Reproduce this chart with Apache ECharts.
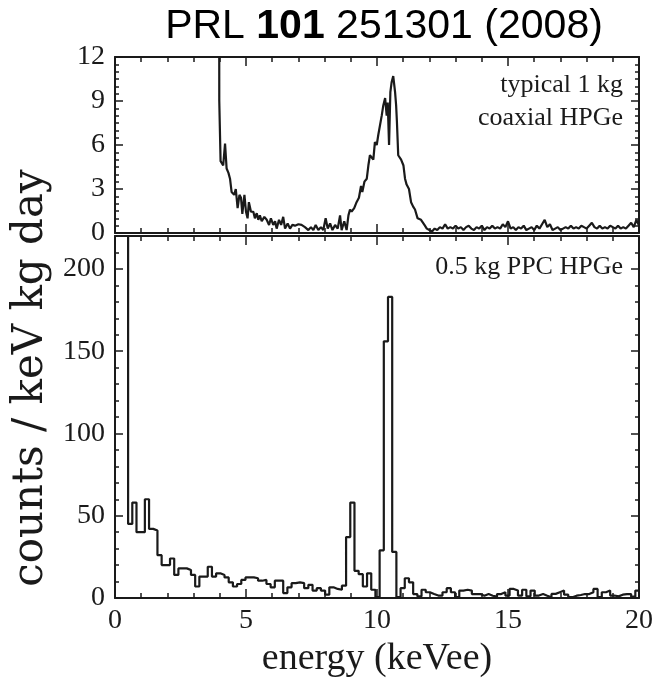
<!DOCTYPE html>
<html><head><meta charset="utf-8">
<script src="https://cdn.jsdelivr.net/npm/echarts@6/dist/echarts.min.js"></script>
<style>html,body{margin:0;padding:0;background:#fff}#c{width:664px;height:682px}</style>
</head><body><div id="c"></div>
<script>
// ---- data ----
const xTicks = [0, 5, 10, 15, 20];
const topTicks = [0, 3, 6, 9, 12];
const bottomTicks = [0, 50, 100, 150, 200];

// typical 1 kg coaxial HPGe (fine binned spectrum)
const topE = [3.97,3.98,4.03,4.13,4.20,4.26,4.33,4.39,4.45,4.55,4.61,4.68,4.75,4.81,4.86,4.94,5.00,5.06,5.11,5.19,5.28,5.34,5.41,5.47,5.53,5.60,5.70,5.79,5.88,5.95,6.04,6.11,6.17,6.26,6.34,6.42,6.49,6.59,6.68,6.77,6.87,7.00,7.12,7.25,7.38,7.48,7.57,7.66,7.76,7.86,7.95,8.04,8.12,8.21,8.30,8.40,8.50,8.59,8.65,8.75,8.84,8.91,8.97,9.03,9.13,9.22,9.31,9.39,9.44,9.52,9.61,9.67,9.73,9.80,9.86,9.92,9.99,10.05,10.11,10.18,10.24,10.31,10.37,10.41,10.46,10.51,10.56,10.62,10.69,10.73,10.76,10.81,10.92,11.01,11.07,11.13,11.22,11.30,11.38,11.45,11.55,11.68,11.81,
  11.9,12.0,12.1,12.2,12.3,12.4,12.5,12.6,12.7,12.8,12.9,13.0,13.1,13.2,13.3,13.4,13.5,13.6,13.7,13.8,13.9,14.0,14.1,14.2,14.3,14.4,14.5,14.6,14.7,14.8,14.9,15.0,15.1,15.2,15.3,15.4,15.5,15.6,15.7,15.8,15.9,16.0,16.1,16.2,16.3,16.4,16.5,16.6,16.7,16.8,16.9,17.0,17.1,17.2,17.3,17.4,17.5,17.6,17.7,17.8,17.9,18.0,18.1,18.2,18.3,18.4,18.5,18.6,18.7,18.8,18.9,19.0,19.1,19.2,19.3,19.4,19.5,19.6,19.7,19.8,19.9,20.0];
const topV = [30,9.0,4.9,4.6,6.1,4.4,4.1,3.7,2.8,2.6,3.0,1.7,2.6,2.4,1.3,2.6,1.45,1.0,2.1,1.45,1.45,1.0,1.35,0.9,1.2,0.8,1.1,0.9,0.55,1.0,0.55,0.8,0.3,0.9,0.55,1.1,0.3,0.65,0.3,0.55,0.5,0.6,0.55,0.4,0.2,0.4,0.2,0.55,0.2,0.4,0.2,1.0,0.3,0.65,0.2,0.55,0.3,1.2,0.2,0.8,0.2,1.2,1.6,1.45,1.7,2.1,2.4,3.2,2.8,3.5,3.7,4.6,5.3,5.4,5.0,6.2,6.0,6.7,6.8,8.0,8.7,9.2,8.0,8.9,6.0,9.6,10.3,10.7,9.6,8.7,7.6,5.3,5.0,4.6,3.7,3.3,3.0,2.1,1.8,1.6,1.0,0.9,0.55,
  0.3,0.2,0.1,0.3,0.2,0.4,0.3,0.6,0.3,0.4,0.3,0.5,0.3,0.4,0.2,0.4,0.5,0.3,0.2,0.4,0.3,0.5,0.2,0.4,0.3,0.5,0.3,0.4,0.3,0.6,0.4,0.8,0.3,0.4,0.2,0.4,0.3,0.5,0.2,0.3,0.4,0.2,0.5,0.3,0.6,0.9,0.4,0.6,0.2,0.3,0.4,0.2,0.3,0.4,0.3,0.5,0.3,0.4,0.3,0.5,0.4,0.3,0.5,0.7,0.4,0.3,0.5,0.3,0.4,0.3,0.5,0.4,0.3,0.5,0.3,0.4,0.3,0.5,0.7,0.4,0.9,0.5];

// 0.5 kg PPC HPGe histogram
const ppcBinStart = 0.5;
const ppcBinWidth = 0.16;
const ppcOffscale = 600;
const ppcCounts = [45,58,40,40,60,42,41,26,20,20,24,14,18,18,17,14,7,13,13,19,13,15,14,12.5,9.5,7,8.5,11,12.5,12.5,12,10.5,11,8.5,6.5,10.5,10.5,3,
  6.5,9,9.5,9,6,8,4.5,6,4.5,2,6.5,5.5,5,7.5,37,58,16.5,14.5,7,15,5,0.5,29,156,183,28,0.5,6,12,9.5,2.4,1,5,3.5,2.4,1.5,1.5,3.5,6,3.5,0.5,4.5,
  5,4.5,2.4,2.4,1.4,2.4,1.4,0.8,2.4,3.5,1.5,5.5,4.5,1.5,5,1,4.5,1.5,2.4,1.4,0.5,2.5,3.5,4.5,2,0.5,1.4,1.8,2.4,2.4,3.5,5.5,0.5,3.5,4.5,1.5,1,2,2.4,2.4,0.8,4.5];

// ---- build series data ----
const topData = topE.map((e, i) => [e, topV[i]]);
const ppcData = [[ppcBinStart - ppcBinWidth, ppcOffscale]];
ppcCounts.forEach((v, i) => ppcData.push([ppcBinStart + i * ppcBinWidth, v]));
ppcData.push([ppcBinStart + ppcCounts.length * ppcBinWidth, ppcCounts[ppcCounts.length - 1]]);

const INK = '#1a1a1a';
const SERIF = 'Liberation Serif';

function xAx(grid, pos, showLabel) {
  return {
    type: 'value', gridIndex: grid, position: pos,
    min: xTicks[0], max: xTicks[xTicks.length - 1], interval: xTicks[1] - xTicks[0],
    axisLine: { show: true, onZero: false, lineStyle: { color: INK, width: 2 } },
    axisTick: { show: true, inside: true, length: 9, lineStyle: { color: INK, width: 1.5 } },
    minorTick: { show: true, splitNumber: 5, length: 5, lineStyle: { color: INK, width: 1.5 } },
    splitLine: { show: false },
    axisLabel: { show: showLabel, color: INK, fontFamily: SERIF, fontSize: 28, margin: 9 }
  };
}
function yAx(grid, pos, ticks, maxV, minorSplit, showLabel) {
  return {
    type: 'value', gridIndex: grid, position: pos,
    min: ticks[0], max: maxV, interval: ticks[1] - ticks[0],
    axisLine: { show: true, onZero: false, lineStyle: { color: INK, width: 2 } },
    axisTick: { show: true, inside: true, length: 8, lineStyle: { color: INK, width: 1.5 } },
    minorTick: { show: true, splitNumber: minorSplit, length: 4, lineStyle: { color: INK, width: 1.5 } },
    splitLine: { show: false },
    axisLabel: { show: showLabel, color: INK, fontFamily: SERIF, fontSize: 28, margin: 10,
      showMaxLabel: maxV === ticks[ticks.length - 1],
      formatter: v => (ticks.indexOf(v) >= 0 ? String(v) : '') }
  };
}

const chart = echarts.init(document.getElementById('c'), null, { renderer: 'canvas' });
chart.setOption({
  animation: false,
  backgroundColor: '#fff',
  grid: [
    { left: 115, top: 57, width: 524, height: 176 },
    { left: 115, top: 236, width: 524, height: 362 }
  ],
  xAxis: [xAx(0, 'bottom', false), xAx(0, 'top', false), xAx(1, 'bottom', true), xAx(1, 'top', false)],
  yAxis: [
    yAx(0, 'left', topTicks, 12, 6, true), yAx(0, 'right', topTicks, 12, 6, false),
    yAx(1, 'left', bottomTicks, 220, 5, true), yAx(1, 'right', bottomTicks, 220, 5, false)
  ],
  series: [
    { type: 'line', xAxisIndex: 0, yAxisIndex: 0, data: topData, symbol: 'none', clip: true,
      lineStyle: { color: INK, width: 2.2 } },
    { type: 'line', xAxisIndex: 2, yAxisIndex: 2, data: ppcData, step: 'end', symbol: 'none', clip: true,
      lineStyle: { color: INK, width: 2.2 } }
  ],
  graphic: [
    { type: 'text', x: 384, y: 27, style: { text: '{a|PRL }{b|101}{a| 251301 (2008)}', textAlign: 'center', textVerticalAlign: 'middle',
      rich: { a: { fontFamily: 'Liberation Sans', fontSize: 41, fill: '#000' }, b: { fontFamily: 'Liberation Sans', fontSize: 41, fontWeight: 'bold', fill: '#000' } } } },
    { type: 'text', x: 623, y: 85, style: { text: 'typical 1 kg', textAlign: 'right', textVerticalAlign: 'middle', fontFamily: SERIF, fontSize: 26, fill: INK } },
    { type: 'text', x: 623, y: 118, style: { text: 'coaxial HPGe', textAlign: 'right', textVerticalAlign: 'middle', fontFamily: SERIF, fontSize: 26, fill: INK } },
    { type: 'text', x: 623, y: 267, style: { text: '0.5 kg PPC HPGe', textAlign: 'right', textVerticalAlign: 'middle', fontFamily: SERIF, fontSize: 26, fill: INK } },
    { type: 'text', x: 377, y: 659, style: { text: 'energy (keVee)', textAlign: 'center', textVerticalAlign: 'middle', fontFamily: SERIF, fontSize: 38, fill: INK } },
    { type: 'text', x: 31, y: 378, rotation: Math.PI / 2, style: { text: 'counts / keV kg day', textAlign: 'center', textVerticalAlign: 'middle', fontFamily: 'DejaVu Serif', fontSize: 42, fill: INK } }
  ]
});
</script>
</body></html>
